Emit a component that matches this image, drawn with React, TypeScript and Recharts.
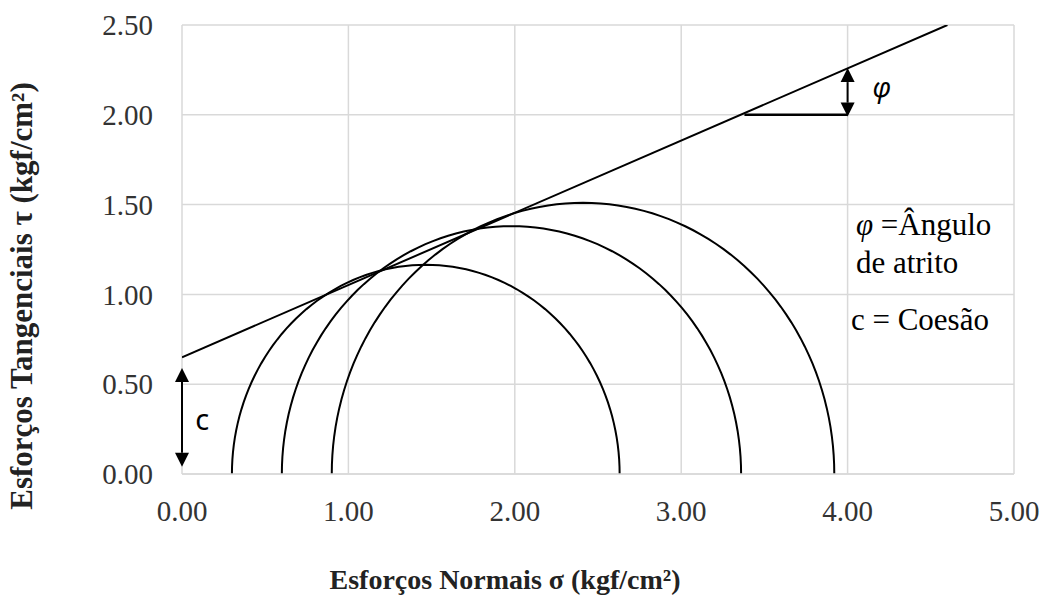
import React from 'react';
import {
  ComposedChart,
  Line,
  XAxis,
  YAxis,
  CartesianGrid,
  ReferenceLine,
  ReferenceDot,
} from 'recharts';

// principal stresses of each test (kgf/cm2)
const sigma3 = [0.3, 0.6, 0.9];
const sigma1 = [2.63, 3.36, 3.92];

// failure envelope endpoints
const envelopeX = [0, 4.6];
const envelopeY = [0.65, 2.5];

const xTicks = [0, 1, 2, 3, 4, 5];
const yTicks = [0, 0.5, 1, 1.5, 2, 2.5];

const SERIF = '"Liberation Serif", "Times New Roman", serif';
const SANS = '"Noto Sans", "Open Sans", sans-serif';

// semicircle of Mohr from sigma3 / sigma1
const mohrCircle = (s3: number, s1: number) => {
  const c = (s1 + s3) / 2;
  const r = (s1 - s3) / 2;
  const pts: { x: number; y: number }[] = [];
  for (let a = 180; a >= 0; a -= 2) {
    const t = (a * Math.PI) / 180;
    pts.push({ x: c + r * Math.cos(t), y: r * Math.sin(t) });
  }
  return pts;
};

const circles = sigma3.map((s3, i) => mohrCircle(s3, sigma1[i]));
const envelope = envelopeX.map((x, i) => ({ x, y: envelopeY[i] }));

// double headed arrow drawn between the two segment ends
const DoubleArrow = (props: any) => {
  const { x1, y1, x2, y2 } = props;
  const len = Math.hypot(x2 - x1, y2 - y1) || 1;
  const ux = (x2 - x1) / len;
  const uy = (y2 - y1) / len;
  const h = 14;
  const w = 7;
  const head = (tx: number, ty: number, dx: number, dy: number) => {
    const bx = tx - dx * h;
    const by = ty - dy * h;
    return `M${tx},${ty} L${bx - dy * w},${by + dx * w} L${bx + dy * w},${by - dx * w} Z`;
  };
  return (
    <g>
      <line
        x1={x1 + ux * h}
        y1={y1 + uy * h}
        x2={x2 - ux * h}
        y2={y2 - uy * h}
        stroke="#000"
        strokeWidth={2}
      />
      <path d={head(x1, y1, -ux, -uy)} fill="#000" />
      <path d={head(x2, y2, ux, uy)} fill="#000" />
    </g>
  );
};

const textAt =
  (content: React.ReactNode, family: string, size: number, italic = false) =>
  (p: any) => (
    <text
      x={p.cx}
      y={p.cy}
      fontFamily={family}
      fontSize={size}
      fontStyle={italic ? 'italic' : 'normal'}
      fill="#000"
      dominantBaseline="middle"
    >
      {content}
    </text>
  );

export default function App() {
  return (
    <div style={{ position: 'absolute', left: 0, top: 0, background: '#fff' }}>
      <ComposedChart
        width={1047}
        height={601}
        margin={{ top: 25, right: 33, bottom: 0, left: 0 }}
      >
        <CartesianGrid stroke="#d9d9d9" strokeWidth={1.5} />
        <XAxis
          type="number"
          dataKey="x"
          domain={[0, 5]}
          ticks={xTicks}
          interval={0}
          allowDataOverflow
          height={127}
          tickLine={false}
          tickSize={0}
          tickMargin={26}
          axisLine={{ stroke: '#d9d9d9', strokeWidth: 1.5 }}
          tickFormatter={(v) => Number(v).toFixed(2)}
          tick={{ fill: '#333', fontSize: 29, fontFamily: SERIF }}
          label={{
            content: () => (
              <text
                x={505}
                y={583}
                textAnchor="middle"
                dominantBaseline="middle"
                fontFamily={SERIF}
                fontWeight="bold"
                fontSize={28}
                fill="#222"
              >
                Esforços Normais σ (kgf/cm²)
              </text>
            ),
          }}
        />
        <YAxis
          type="number"
          domain={[0, 2.5]}
          ticks={yTicks}
          interval={0}
          allowDataOverflow
          width={182}
          tickLine={false}
          tickSize={0}
          tickMargin={29}
          axisLine={false}
          tickFormatter={(v) => Number(v).toFixed(2)}
          tick={{ fill: '#333', fontSize: 29, fontFamily: SERIF }}
          label={{
            content: () => (
              <text
                x={25}
                y={296}
                transform="rotate(-90, 25, 296)"
                textAnchor="middle"
                dominantBaseline="middle"
                fontFamily={SERIF}
                fontWeight="bold"
                fontSize={31}
                fill="#222"
              >
                Esforços Tangenciais τ (kgf/cm²)
              </text>
            ),
          }}
        />
        {circles.map((pts, i) => (
          <Line
            key={i}
            data={pts}
            dataKey="y"
            type="linear"
            stroke="#000"
            strokeWidth={2}
            dot={false}
            activeDot={false}
            isAnimationActive={false}
          />
        ))}
        <Line
          data={envelope}
          dataKey="y"
          type="linear"
          stroke="#000"
          strokeWidth={2}
          dot={false}
          activeDot={false}
          isAnimationActive={false}
        />
        <ReferenceLine
          segment={[
            { x: 3.38, y: 2.0 },
            { x: 4.0, y: 2.0 },
          ]}
          stroke="#000"
          strokeWidth={2.5}
        />
        <ReferenceLine
          segment={[
            { x: 4.0, y: 1.99 },
            { x: 4.0, y: 2.26 },
          ]}
          shape={DoubleArrow}
        />
        <ReferenceLine
          segment={[
            { x: 0, y: 0.04 },
            { x: 0, y: 0.59 },
          ]}
          shape={DoubleArrow}
        />
        <ReferenceDot x={4.15} y={2.14} r={0} shape={textAt('φ', SANS, 27, true)} />
        <ReferenceDot x={0.08} y={0.29} r={0} shape={textAt('c', SANS, 29)} />
        <ReferenceDot
          x={4.05}
          y={1.37}
          r={0}
          shape={textAt(
            <>
              <tspan fontStyle="italic">φ</tspan> =Ângulo
            </>,
            SERIF,
            31
          )}
        />
        <ReferenceDot x={4.05} y={1.16} r={0} shape={textAt('de atrito', SERIF, 31)} />
        <ReferenceDot x={4.02} y={0.84} r={0} shape={textAt('c = Coesão', SERIF, 31)} />
      </ComposedChart>
    </div>
  );
}
